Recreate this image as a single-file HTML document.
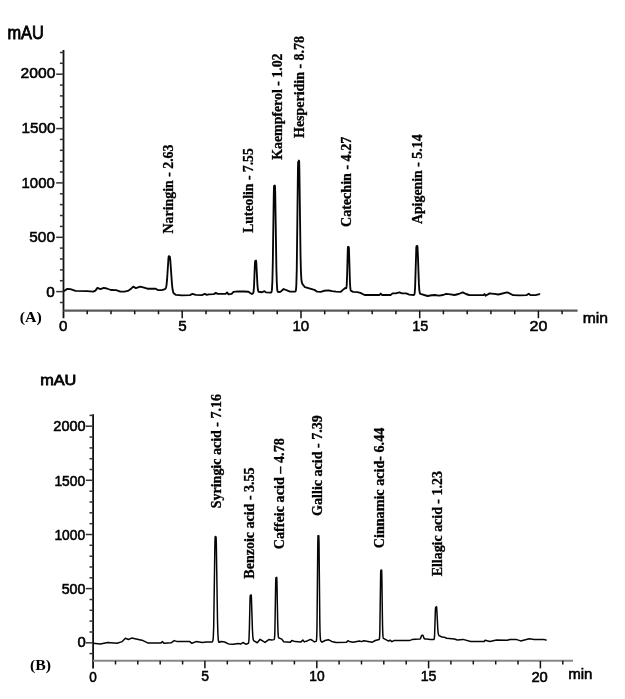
<!DOCTYPE html>
<html><head><meta charset="utf-8"><style>
html,body{margin:0;padding:0;background:#fff;overflow:hidden}
svg{display:block;filter:blur(0.3px)}
text{fill:#000} text.s{stroke:#000;stroke-width:0.55px} text.m{stroke:#000;stroke-width:0.8px} text.r{stroke:#000;stroke-width:0.3px}
</style></head><body>
<svg width="625" height="699" viewBox="0 0 625 699">
<rect width="625" height="699" fill="#fff"/>
<line x1="63.5" y1="50.0" x2="63.5" y2="318.2" stroke="#111" stroke-width="1.8"/>
<line x1="59.9" y1="302.5" x2="63.5" y2="302.5" stroke="#333" stroke-width="1.5"/>
<line x1="56.2" y1="291.6" x2="63.5" y2="291.6" stroke="#333" stroke-width="1.5"/>
<line x1="59.9" y1="280.7" x2="63.5" y2="280.7" stroke="#333" stroke-width="1.5"/>
<line x1="59.9" y1="269.9" x2="63.5" y2="269.9" stroke="#333" stroke-width="1.5"/>
<line x1="59.9" y1="259.0" x2="63.5" y2="259.0" stroke="#333" stroke-width="1.5"/>
<line x1="59.9" y1="248.1" x2="63.5" y2="248.1" stroke="#333" stroke-width="1.5"/>
<line x1="56.2" y1="237.3" x2="63.5" y2="237.3" stroke="#333" stroke-width="1.5"/>
<line x1="59.9" y1="226.4" x2="63.5" y2="226.4" stroke="#333" stroke-width="1.5"/>
<line x1="59.9" y1="215.5" x2="63.5" y2="215.5" stroke="#333" stroke-width="1.5"/>
<line x1="59.9" y1="204.6" x2="63.5" y2="204.6" stroke="#333" stroke-width="1.5"/>
<line x1="59.9" y1="193.8" x2="63.5" y2="193.8" stroke="#333" stroke-width="1.5"/>
<line x1="56.2" y1="182.9" x2="63.5" y2="182.9" stroke="#333" stroke-width="1.5"/>
<line x1="59.9" y1="172.0" x2="63.5" y2="172.0" stroke="#333" stroke-width="1.5"/>
<line x1="59.9" y1="161.2" x2="63.5" y2="161.2" stroke="#333" stroke-width="1.5"/>
<line x1="59.9" y1="150.3" x2="63.5" y2="150.3" stroke="#333" stroke-width="1.5"/>
<line x1="59.9" y1="139.4" x2="63.5" y2="139.4" stroke="#333" stroke-width="1.5"/>
<line x1="56.2" y1="128.6" x2="63.5" y2="128.6" stroke="#333" stroke-width="1.5"/>
<line x1="59.9" y1="117.7" x2="63.5" y2="117.7" stroke="#333" stroke-width="1.5"/>
<line x1="59.9" y1="106.8" x2="63.5" y2="106.8" stroke="#333" stroke-width="1.5"/>
<line x1="59.9" y1="95.9" x2="63.5" y2="95.9" stroke="#333" stroke-width="1.5"/>
<line x1="59.9" y1="85.1" x2="63.5" y2="85.1" stroke="#333" stroke-width="1.5"/>
<line x1="56.2" y1="74.2" x2="63.5" y2="74.2" stroke="#333" stroke-width="1.5"/>
<line x1="59.9" y1="63.3" x2="63.5" y2="63.3" stroke="#333" stroke-width="1.5"/>
<line x1="59.9" y1="52.5" x2="63.5" y2="52.5" stroke="#333" stroke-width="1.5"/>
<line x1="63.5" y1="310.7" x2="577.6" y2="310.7" stroke="#5a5a5a" stroke-width="2.2"/>
<line x1="87.2" y1="310.7" x2="87.2" y2="314.3" stroke="#111" stroke-width="1.5"/>
<line x1="111.0" y1="310.7" x2="111.0" y2="314.3" stroke="#111" stroke-width="1.5"/>
<line x1="134.7" y1="310.7" x2="134.7" y2="314.3" stroke="#111" stroke-width="1.5"/>
<line x1="158.5" y1="310.7" x2="158.5" y2="314.3" stroke="#111" stroke-width="1.5"/>
<line x1="182.2" y1="310.7" x2="182.2" y2="318.2" stroke="#111" stroke-width="1.5"/>
<line x1="206.0" y1="310.7" x2="206.0" y2="314.3" stroke="#111" stroke-width="1.5"/>
<line x1="229.7" y1="310.7" x2="229.7" y2="314.3" stroke="#111" stroke-width="1.5"/>
<line x1="253.5" y1="310.7" x2="253.5" y2="314.3" stroke="#111" stroke-width="1.5"/>
<line x1="277.2" y1="310.7" x2="277.2" y2="314.3" stroke="#111" stroke-width="1.5"/>
<line x1="301.0" y1="310.7" x2="301.0" y2="318.2" stroke="#111" stroke-width="1.5"/>
<line x1="324.7" y1="310.7" x2="324.7" y2="314.3" stroke="#111" stroke-width="1.5"/>
<line x1="348.4" y1="310.7" x2="348.4" y2="314.3" stroke="#111" stroke-width="1.5"/>
<line x1="372.2" y1="310.7" x2="372.2" y2="314.3" stroke="#111" stroke-width="1.5"/>
<line x1="395.9" y1="310.7" x2="395.9" y2="314.3" stroke="#111" stroke-width="1.5"/>
<line x1="419.7" y1="310.7" x2="419.7" y2="318.2" stroke="#111" stroke-width="1.5"/>
<line x1="443.4" y1="310.7" x2="443.4" y2="314.3" stroke="#111" stroke-width="1.5"/>
<line x1="467.2" y1="310.7" x2="467.2" y2="314.3" stroke="#111" stroke-width="1.5"/>
<line x1="490.9" y1="310.7" x2="490.9" y2="314.3" stroke="#111" stroke-width="1.5"/>
<line x1="514.7" y1="310.7" x2="514.7" y2="314.3" stroke="#111" stroke-width="1.5"/>
<line x1="538.4" y1="310.7" x2="538.4" y2="318.2" stroke="#111" stroke-width="1.5"/>
<line x1="562.1" y1="310.7" x2="562.1" y2="314.3" stroke="#111" stroke-width="1.5"/>
<polyline points="63.70,291.20 67.30,288.90 70.40,289.10 75.60,290.80 87.00,291.20 93.30,291.60 95.40,290.60 97.40,287.90 100.60,289.10 103.70,287.90 106.80,288.50 111.00,290.00 116.20,290.10 120.30,291.60 124.50,291.60 128.60,290.60 130.70,289.10 133.20,286.60 135.90,288.10 140.10,286.60 143.20,287.40 147.40,288.70 155.70,288.70 157.80,290.00 161.90,290.10 165.05,289.04 165.65,288.44 166.05,287.50 166.45,285.62 167.05,279.95 168.45,258.42 168.65,256.77 168.85,256.09 169.65,256.49 169.85,256.81 170.25,259.66 172.05,285.06 172.65,289.83 173.25,292.36 173.65,293.24 176.05,294.90 182.00,295.40 189.90,295.10 192.40,293.90 195.80,294.90 201.80,295.10 204.80,293.90 206.80,294.90 208.70,294.40 213.70,294.20 215.70,292.90 217.70,293.90 225.60,293.90 227.10,292.40 228.60,294.40 231.60,293.90 233.50,291.90 238.00,291.40 240.20,291.50 244.30,291.50 248.50,291.75 250.20,293.00 251.85,293.98 252.85,293.50 253.30,292.79 253.65,291.05 254.05,285.76 254.85,265.04 255.05,261.75 255.25,260.94 255.65,260.89 256.05,260.57 256.25,261.73 257.45,285.09 257.85,289.28 258.25,291.11 258.65,291.77 262.05,292.22 264.40,291.15 266.05,292.38 270.80,292.57 271.20,292.41 271.40,292.17 271.60,291.66 271.80,290.68 272.00,288.86 272.40,280.75 272.80,263.08 273.80,192.80 274.00,186.52 274.20,185.71 274.60,185.68 274.80,185.58 275.00,186.16 275.20,191.65 276.40,268.82 276.80,282.79 277.20,289.07 277.40,290.50 277.60,291.30 277.80,291.74 278.00,291.96 280.40,291.94 283.60,288.99 290.00,291.60 295.15,291.53 295.55,291.22 295.75,290.76 295.95,289.79 296.15,287.92 296.35,284.51 296.75,269.93 297.95,168.40 298.15,161.91 298.35,161.62 298.55,161.60 298.75,161.39 298.95,160.56 299.15,161.26 299.35,168.19 300.55,256.44 300.95,271.93 301.35,279.12 301.75,282.08 302.35,283.87 304.95,287.23 314.40,289.90 317.20,291.66 320.80,291.94 324.00,290.78 328.80,290.39 332.00,291.20 336.00,291.60 340.80,291.80 343.20,289.60 345.20,288.00 345.95,288.28 346.20,288.13 346.35,287.78 346.55,286.70 346.75,284.43 347.15,274.15 347.75,250.40 347.95,246.94 348.15,246.88 348.75,247.17 348.95,248.46 349.95,282.29 350.35,288.46 350.55,289.73 350.75,290.37 351.15,290.88 353.10,291.90 357.30,292.10 360.40,292.90 364.60,295.00 379.60,295.00 380.70,293.60 382.20,295.00 390.60,295.00 392.60,293.40 395.80,293.40 399.40,292.40 402.00,293.40 406.20,293.40 409.30,294.70 413.70,294.97 414.10,294.81 414.30,294.52 414.50,293.93 414.70,292.80 415.10,287.56 416.30,248.00 416.50,246.14 417.10,246.05 417.30,245.95 417.50,247.01 417.90,255.26 418.90,283.90 419.30,289.82 419.70,292.58 420.10,293.62 420.50,293.95 427.50,295.99 431.70,295.22 434.80,295.00 438.90,295.70 443.10,295.00 446.20,293.80 450.40,294.30 454.50,295.00 458.70,294.00 462.80,292.40 466.00,294.00 469.10,295.00 475.00,295.10 483.40,295.10 484.50,294.10 485.60,295.70 489.60,293.40 494.00,293.80 498.50,294.50 506.90,292.40 508.60,292.90 513.10,295.20 519.80,295.40 526.50,295.10 528.80,293.80 530.40,295.10 535.50,295.10 539.40,294.10 540.00,294.50" fill="none" stroke="#050505" stroke-width="1.85" stroke-linejoin="round"/>
<line x1="93.1" y1="414.2" x2="93.1" y2="668.4" stroke="#111" stroke-width="1.8"/>
<line x1="89.5" y1="653.6" x2="93.1" y2="653.6" stroke="#333" stroke-width="1.5"/>
<line x1="85.8" y1="642.8" x2="93.1" y2="642.8" stroke="#333" stroke-width="1.5"/>
<line x1="89.5" y1="632.0" x2="93.1" y2="632.0" stroke="#333" stroke-width="1.5"/>
<line x1="89.5" y1="621.1" x2="93.1" y2="621.1" stroke="#333" stroke-width="1.5"/>
<line x1="89.5" y1="610.3" x2="93.1" y2="610.3" stroke="#333" stroke-width="1.5"/>
<line x1="89.5" y1="599.5" x2="93.1" y2="599.5" stroke="#333" stroke-width="1.5"/>
<line x1="85.8" y1="588.6" x2="93.1" y2="588.6" stroke="#333" stroke-width="1.5"/>
<line x1="89.5" y1="577.8" x2="93.1" y2="577.8" stroke="#333" stroke-width="1.5"/>
<line x1="89.5" y1="567.0" x2="93.1" y2="567.0" stroke="#333" stroke-width="1.5"/>
<line x1="89.5" y1="556.2" x2="93.1" y2="556.2" stroke="#333" stroke-width="1.5"/>
<line x1="89.5" y1="545.3" x2="93.1" y2="545.3" stroke="#333" stroke-width="1.5"/>
<line x1="85.8" y1="534.5" x2="93.1" y2="534.5" stroke="#333" stroke-width="1.5"/>
<line x1="89.5" y1="523.7" x2="93.1" y2="523.7" stroke="#333" stroke-width="1.5"/>
<line x1="89.5" y1="512.8" x2="93.1" y2="512.8" stroke="#333" stroke-width="1.5"/>
<line x1="89.5" y1="502.0" x2="93.1" y2="502.0" stroke="#333" stroke-width="1.5"/>
<line x1="89.5" y1="491.2" x2="93.1" y2="491.2" stroke="#333" stroke-width="1.5"/>
<line x1="85.8" y1="480.3" x2="93.1" y2="480.3" stroke="#333" stroke-width="1.5"/>
<line x1="89.5" y1="469.5" x2="93.1" y2="469.5" stroke="#333" stroke-width="1.5"/>
<line x1="89.5" y1="458.7" x2="93.1" y2="458.7" stroke="#333" stroke-width="1.5"/>
<line x1="89.5" y1="447.9" x2="93.1" y2="447.9" stroke="#333" stroke-width="1.5"/>
<line x1="89.5" y1="437.0" x2="93.1" y2="437.0" stroke="#333" stroke-width="1.5"/>
<line x1="85.8" y1="426.2" x2="93.1" y2="426.2" stroke="#333" stroke-width="1.5"/>
<line x1="89.5" y1="415.4" x2="93.1" y2="415.4" stroke="#333" stroke-width="1.5"/>
<line x1="93.1" y1="660.85" x2="573" y2="660.85" stroke="#888" stroke-width="2.0"/>
<line x1="115.5" y1="660.85" x2="115.5" y2="664.45" stroke="#111" stroke-width="1.5"/>
<line x1="137.8" y1="660.85" x2="137.8" y2="664.45" stroke="#111" stroke-width="1.5"/>
<line x1="160.2" y1="660.85" x2="160.2" y2="664.45" stroke="#111" stroke-width="1.5"/>
<line x1="182.6" y1="660.85" x2="182.6" y2="664.45" stroke="#111" stroke-width="1.5"/>
<line x1="204.9" y1="660.85" x2="204.9" y2="668.35" stroke="#111" stroke-width="1.5"/>
<line x1="227.3" y1="660.85" x2="227.3" y2="664.45" stroke="#111" stroke-width="1.5"/>
<line x1="249.7" y1="660.85" x2="249.7" y2="664.45" stroke="#111" stroke-width="1.5"/>
<line x1="272.0" y1="660.85" x2="272.0" y2="664.45" stroke="#111" stroke-width="1.5"/>
<line x1="294.4" y1="660.85" x2="294.4" y2="664.45" stroke="#111" stroke-width="1.5"/>
<line x1="316.8" y1="660.85" x2="316.8" y2="668.35" stroke="#111" stroke-width="1.5"/>
<line x1="339.1" y1="660.85" x2="339.1" y2="664.45" stroke="#111" stroke-width="1.5"/>
<line x1="361.5" y1="660.85" x2="361.5" y2="664.45" stroke="#111" stroke-width="1.5"/>
<line x1="383.8" y1="660.85" x2="383.8" y2="664.45" stroke="#111" stroke-width="1.5"/>
<line x1="406.2" y1="660.85" x2="406.2" y2="664.45" stroke="#111" stroke-width="1.5"/>
<line x1="428.6" y1="660.85" x2="428.6" y2="668.35" stroke="#111" stroke-width="1.5"/>
<line x1="450.9" y1="660.85" x2="450.9" y2="664.45" stroke="#111" stroke-width="1.5"/>
<line x1="473.3" y1="660.85" x2="473.3" y2="664.45" stroke="#111" stroke-width="1.5"/>
<line x1="495.7" y1="660.85" x2="495.7" y2="664.45" stroke="#111" stroke-width="1.5"/>
<line x1="518.0" y1="660.85" x2="518.0" y2="664.45" stroke="#111" stroke-width="1.5"/>
<line x1="540.4" y1="660.85" x2="540.4" y2="668.35" stroke="#111" stroke-width="1.5"/>
<line x1="562.8" y1="660.85" x2="562.8" y2="664.45" stroke="#111" stroke-width="1.5"/>
<polyline points="93.10,643.30 100.40,644.10 107.70,642.40 117.00,643.30 122.20,641.60 125.40,638.30 128.50,639.50 131.60,638.10 143.00,640.60 148.20,643.10 160.70,643.10 162.40,641.60 163.80,643.30 171.10,642.80 174.20,640.60 177.40,641.60 189.80,641.60 191.90,643.30 196.10,641.60 202.30,642.60 206.50,642.00 212.10,641.92 212.50,641.68 212.70,641.34 213.10,639.37 213.30,637.01 213.70,626.45 214.90,544.33 215.10,537.44 215.30,536.56 215.90,536.64 216.10,537.39 216.30,543.05 217.50,620.10 217.90,633.71 218.30,639.72 218.50,641.06 218.70,641.80 218.90,642.19 219.30,642.28 221.30,641.50 224.60,642.00 228.50,643.90 233.30,644.20 238.10,643.40 241.00,643.90 242.90,642.50 245.80,644.20 248.00,643.54 248.40,643.16 248.60,642.59 248.80,641.38 249.00,638.96 249.40,628.04 250.00,600.98 250.20,595.91 250.40,595.22 250.80,595.16 251.00,594.92 251.20,594.93 251.40,597.59 252.40,629.11 252.80,636.35 253.20,639.48 253.60,640.60 257.30,642.74 260.10,639.34 265.00,642.45 268.80,639.59 271.70,640.09 273.90,639.61 274.10,639.48 274.30,639.13 274.50,638.13 274.70,635.67 274.90,630.51 275.70,582.42 275.90,577.84 276.30,577.80 276.50,577.68 276.70,577.41 276.90,580.46 277.70,622.78 278.10,633.91 278.30,636.16 278.50,637.25 278.70,637.73 279.10,638.05 281.80,639.17 283.70,641.74 290.40,642.19 291.80,640.49 295.20,641.60 301.00,641.90 302.90,640.00 304.30,641.90 307.70,640.70 310.50,639.30 312.50,640.50 314.40,641.90 316.00,641.38 316.20,641.19 316.40,640.61 316.60,638.91 316.80,634.70 317.00,625.87 317.80,543.58 318.00,535.76 318.80,535.64 319.00,542.30 319.80,620.41 320.00,630.91 320.20,636.59 320.60,640.37 320.80,640.91 322.10,642.20 325.00,640.50 328.30,639.70 331.70,641.40 336.00,642.40 346.50,642.20 347.90,640.70 349.40,641.40 353.20,642.20 359.40,641.00 361.40,641.60 363.80,640.70 372.40,642.20 375.30,640.50 379.10,639.41 379.25,639.24 379.45,638.49 379.65,636.23 379.85,630.82 380.65,573.68 380.85,570.23 381.25,570.30 381.65,569.96 381.85,577.00 382.45,620.55 382.65,629.56 382.85,634.56 383.05,636.93 383.25,637.94 383.45,638.38 388.70,641.07 390.00,640.19 391.90,641.69 393.85,640.54 409.20,640.60 412.10,639.60 415.00,639.20 419.80,639.08 420.20,638.84 420.60,638.25 421.60,635.60 421.80,635.35 422.80,635.32 423.00,635.56 424.00,638.16 424.40,638.72 425.20,639.00 426.60,639.06 430.30,639.40 433.80,639.52 434.10,639.18 434.40,637.54 434.60,634.83 435.40,609.78 435.60,607.38 436.00,607.30 436.20,607.10 436.40,606.63 436.60,607.08 437.00,613.14 437.80,629.25 438.20,633.22 438.60,634.93 439.00,635.62 442.00,636.98 444.20,637.18 446.60,638.27 454.40,638.98 457.30,639.99 463.00,639.40 470.70,641.50 484.20,641.50 485.10,640.30 489.90,641.50 496.60,640.00 507.20,640.30 510.10,639.60 516.80,639.60 520.60,640.90 529.30,638.80 534.10,639.40 543.70,639.40 546.60,640.30" fill="none" stroke="#050505" stroke-width="1.5" stroke-linejoin="round"/>
<text class="m" x="7.45" y="38.62" font-family='"Liberation Sans", sans-serif' font-size="18.30" font-weight="normal" textLength="36.42" lengthAdjust="spacingAndGlyphs">mAU</text>
<text class="s" x="20.58" y="77.64" font-family='"Liberation Sans", sans-serif' font-size="15.10" font-weight="normal" textLength="34.75" lengthAdjust="spacingAndGlyphs">2000</text>
<text class="s" x="21.46" y="132.64" font-family='"Liberation Sans", sans-serif' font-size="15.10" font-weight="normal" textLength="33.98" lengthAdjust="spacingAndGlyphs">1500</text>
<text class="s" x="21.60" y="187.70" font-family='"Liberation Sans", sans-serif' font-size="15.10" font-weight="normal" textLength="33.12" lengthAdjust="spacingAndGlyphs">1000</text>
<text class="s" x="29.27" y="241.60" font-family='"Liberation Sans", sans-serif' font-size="15.10" font-weight="normal" textLength="25.67" lengthAdjust="spacingAndGlyphs">500</text>
<text class="s" x="46.19" y="296.62" font-family='"Liberation Sans", sans-serif' font-size="15.10" font-weight="normal" textLength="8.53" lengthAdjust="spacingAndGlyphs">0</text>
<text class="s" x="58.99" y="330.56" font-family='"Liberation Sans", sans-serif' font-size="15.10" font-weight="normal" textLength="8.42" lengthAdjust="spacingAndGlyphs">0</text>
<text class="s" x="178.15" y="330.77" font-family='"Liberation Sans", sans-serif' font-size="15.10" font-weight="normal" textLength="8.43" lengthAdjust="spacingAndGlyphs">5</text>
<text class="s" x="292.45" y="330.74" font-family='"Liberation Sans", sans-serif' font-size="15.10" font-weight="normal" textLength="16.77" lengthAdjust="spacingAndGlyphs">10</text>
<text class="s" x="412.14" y="330.67" font-family='"Liberation Sans", sans-serif' font-size="15.10" font-weight="normal" textLength="16.01" lengthAdjust="spacingAndGlyphs">15</text>
<text class="s" x="529.52" y="330.55" font-family='"Liberation Sans", sans-serif' font-size="15.10" font-weight="normal" textLength="17.88" lengthAdjust="spacingAndGlyphs">20</text>
<text class="s" x="582.69" y="322.57" font-family='"Liberation Sans", sans-serif' font-size="15.10" font-weight="normal" textLength="25.34" lengthAdjust="spacingAndGlyphs">min</text>
<text class="p" x="19.74" y="321.50" font-family='"Liberation Serif", serif' font-size="15.00" font-weight="bold" textLength="22.02" lengthAdjust="spacingAndGlyphs">(A)</text>
<text class="r" transform="translate(172.80,233.40) rotate(-90)" font-family='"Liberation Serif", serif' font-size="14.00" font-weight="bold" textLength="88.86" lengthAdjust="spacingAndGlyphs">Naringin - 2.63</text>
<text class="r" transform="translate(252.65,232.85) rotate(-90)" font-family='"Liberation Serif", serif' font-size="14.00" font-weight="bold" textLength="84.59" lengthAdjust="spacingAndGlyphs">Luteolin - 7.55</text>
<text class="r" transform="translate(281.64,159.74) rotate(-90)" font-family='"Liberation Serif", serif' font-size="14.00" font-weight="bold" textLength="106.28" lengthAdjust="spacingAndGlyphs">Kaempferol - 1.02</text>
<text class="r" transform="translate(303.75,137.94) rotate(-90)" font-family='"Liberation Serif", serif' font-size="14.00" font-weight="bold" textLength="101.96" lengthAdjust="spacingAndGlyphs">Hesperidin - 8.78</text>
<text class="r" transform="translate(350.67,226.99) rotate(-90)" font-family='"Liberation Serif", serif' font-size="14.00" font-weight="bold" textLength="90.20" lengthAdjust="spacingAndGlyphs">Catechin - 4.27</text>
<text class="r" transform="translate(421.76,224.09) rotate(-90)" font-family='"Liberation Serif", serif' font-size="14.00" font-weight="bold" textLength="89.70" lengthAdjust="spacingAndGlyphs">Apigenin - 5.14</text>
<text class="m" x="40.17" y="384.72" font-family='"Liberation Sans", sans-serif' font-size="15.30" font-weight="normal" textLength="36.19" lengthAdjust="spacingAndGlyphs">mAU</text>
<text class="s" x="53.37" y="430.66" font-family='"Liberation Sans", sans-serif' font-size="14.30" font-weight="normal" textLength="32.33" lengthAdjust="spacingAndGlyphs">2000</text>
<text class="s" x="54.40" y="485.74" font-family='"Liberation Sans", sans-serif' font-size="14.30" font-weight="normal" textLength="30.77" lengthAdjust="spacingAndGlyphs">1500</text>
<text class="s" x="54.40" y="539.65" font-family='"Liberation Sans", sans-serif' font-size="14.30" font-weight="normal" textLength="30.77" lengthAdjust="spacingAndGlyphs">1000</text>
<text class="s" x="61.67" y="593.60" font-family='"Liberation Sans", sans-serif' font-size="14.30" font-weight="normal" textLength="23.72" lengthAdjust="spacingAndGlyphs">500</text>
<text class="s" x="77.49" y="646.67" font-family='"Liberation Sans", sans-serif' font-size="14.30" font-weight="normal" textLength="8.26" lengthAdjust="spacingAndGlyphs">0</text>
<text class="s" x="89.23" y="681.66" font-family='"Liberation Sans", sans-serif' font-size="14.30" font-weight="normal" textLength="7.54" lengthAdjust="spacingAndGlyphs">0</text>
<text class="s" x="201.13" y="680.79" font-family='"Liberation Sans", sans-serif' font-size="14.30" font-weight="normal" textLength="7.76" lengthAdjust="spacingAndGlyphs">5</text>
<text class="s" x="309.27" y="680.68" font-family='"Liberation Sans", sans-serif' font-size="14.30" font-weight="normal" textLength="15.31" lengthAdjust="spacingAndGlyphs">10</text>
<text class="s" x="420.69" y="680.80" font-family='"Liberation Sans", sans-serif' font-size="14.30" font-weight="normal" textLength="15.76" lengthAdjust="spacingAndGlyphs">15</text>
<text class="s" x="531.42" y="681.81" font-family='"Liberation Sans", sans-serif' font-size="14.30" font-weight="normal" textLength="16.41" lengthAdjust="spacingAndGlyphs">20</text>
<text class="s" x="568.17" y="678.58" font-family='"Liberation Sans", sans-serif' font-size="14.30" font-weight="normal" textLength="24.30" lengthAdjust="spacingAndGlyphs">min</text>
<text class="p" x="29.93" y="669.75" font-family='"Liberation Serif", serif' font-size="15.00" font-weight="bold" textLength="20.98" lengthAdjust="spacingAndGlyphs">(B)</text>
<text class="r" transform="translate(220.73,508.25) rotate(-90)" font-family='"Liberation Serif", serif' font-size="14.00" font-weight="bold" textLength="114.18" lengthAdjust="spacingAndGlyphs">Syringic acid - 7.16</text>
<text class="r" transform="translate(253.75,578.63) rotate(-90)" font-family='"Liberation Serif", serif' font-size="14.00" font-weight="bold" textLength="111.19" lengthAdjust="spacingAndGlyphs">Benzoic acid - 3.55</text>
<text class="r" transform="translate(283.57,549.25) rotate(-90)" font-family='"Liberation Serif", serif' font-size="14.00" font-weight="bold" textLength="111.10" lengthAdjust="spacingAndGlyphs">Caffeic acid – 4.78</text>
<text class="r" transform="translate(321.78,515.90) rotate(-90)" font-family='"Liberation Serif", serif' font-size="14.00" font-weight="bold" textLength="100.79" lengthAdjust="spacingAndGlyphs">Gallic acid - 7.39</text>
<text class="r" transform="translate(383.72,548.25) rotate(-90)" font-family='"Liberation Serif", serif' font-size="14.00" font-weight="bold" textLength="120.53" lengthAdjust="spacingAndGlyphs">Cinnamic acid- 6.44</text>
<text class="r" transform="translate(441.81,576.34) rotate(-90)" font-family='"Liberation Serif", serif' font-size="14.00" font-weight="bold" textLength="105.20" lengthAdjust="spacingAndGlyphs">Ellagic acid - 1.23</text>
</svg>
</body></html>
